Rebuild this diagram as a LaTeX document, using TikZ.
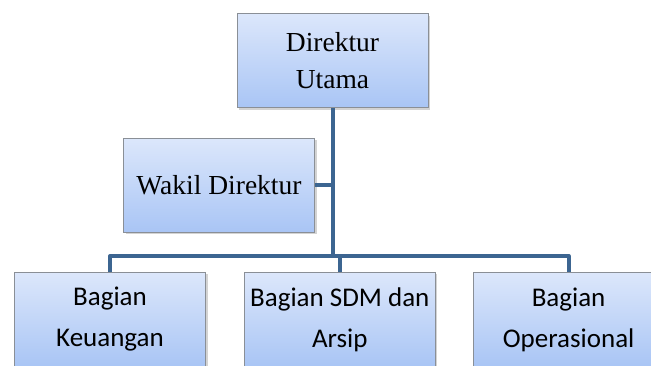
\documentclass[tikz,border=0pt]{standalone}
\usepackage{fontspec}
\setmainfont{Liberation Serif}
\newfontfamily\calfont{Carlito}
\usetikzlibrary{positioning, shadows}
\definecolor{boxTop}{HTML}{DCE7FB}
\definecolor{boxBottom}{HTML}{A9C5F5}
\definecolor{boxLine}{HTML}{8A8F96}
\definecolor{orgLine}{HTML}{3C6591}
\tikzstyle{orgbox} =[draw=boxLine, line width=0.8pt, top color=boxTop, bottom color=boxBottom, minimum width=191pt, minimum height=94pt, align=center, drop shadow={opacity=0.35, shadow xshift=2pt, shadow yshift=-2pt}]
\tikzstyle{serifbox} =[orgbox, font=\fontsize{27.5}{37}\selectfont]
\tikzstyle{sansbox} =[orgbox, font=\calfont\fontsize{27}{41}\selectfont, anchor=north]
\tikzstyle{orgwire} =[draw=orgLine, line width=4pt]

\begin{document}
\begin{tikzpicture}[x=1pt, y=-1pt]
\useasboundingbox (0,0) rectangle (651,365);
\clip (0,0) rectangle (651,365);

\node (dirut) [serifbox] at (332.5,60.5) {Direktur\\Utama};
\node (wakil) [serifbox] at (219,185) {Wakil Direktur};

\node (keu) [sansbox] at (110,272) {Bagian\\Keuangan};
\node (sdm) [sansbox, right=38pt of keu.north east, anchor=north west] {Bagian SDM dan\\Arsip};
\node (ops) [sansbox, right=37pt of sdm.north east, anchor=north west] {Bagian\\Operasional};

\coordinate (bus) at (dirut.south |- 0,256);
\coordinate (wakilJoin) at (dirut.south |- wakil.east);

\begin{scope}[on background layer/.try]
\draw[orgwire] (dirut.south) -- (bus);
\draw[orgwire] (wakil.east) -- (wakilJoin);
\draw[orgwire, line join=round] (keu.north) |- (bus) -| (ops.north);
\draw[orgwire] (bus -| sdm.north) -- (sdm.north);
\end{scope}
\end{tikzpicture}
\end{document}
